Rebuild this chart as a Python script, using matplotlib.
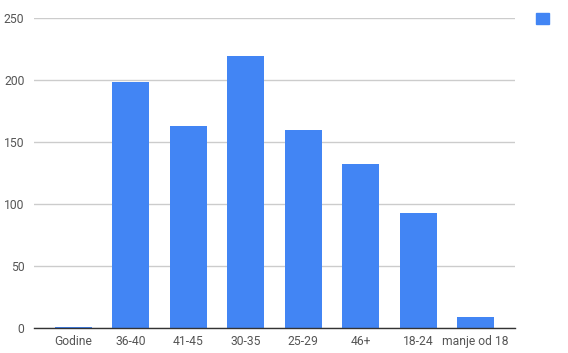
import numpy as np
import matplotlib.pyplot as plt
from matplotlib.patches import Patch

plt.rcParams['font.family'] = ['Roboto', 'DejaVu Sans']

categories = ["Godine", "36-40", "41-45", "30-35", "25-29", "46+", "18-24", "manje od 18"]
values = [1, 198, 163, 219, 160, 132, 93, 9]
yticks = [0, 50, 100, 150, 200, 250]

blue = "#4285F4"

fig = plt.figure(figsize=(5.68, 3.53), dpi=100)
ax = fig.add_axes([0.060, 0.0708, 0.847, 0.8782])

x = np.arange(len(categories))
ax.bar(x, values, width=0.645, color=blue, zorder=3)

ax.set_xlim(-0.684, 7.687)
ax.set_ylim(0, 250)
ax.set_yticks(yticks)
ax.set_xticks(x)
ax.set_xticklabels(categories)

ax.grid(axis="y", color="#cccccc", linewidth=1, zorder=0)
for s in ["top", "right", "left"]:
    ax.spines[s].set_visible(False)
ax.spines["bottom"].set_color("#333333")
ax.spines["bottom"].set_linewidth(1)
ax.spines["bottom"].set_zorder(4)
ax.tick_params(axis="both", length=0, labelsize=8.7, labelcolor="#555555")
ax.tick_params(axis="x", pad=5)
ax.tick_params(axis="y", pad=7)

fig.legend(handles=[Patch(color=blue)], labels=[""], loc="upper left",
           bbox_to_anchor=(0.932, 0.985), frameon=False,
           handlelength=0.9, handleheight=0.9, borderpad=0, handletextpad=0)

fig.savefig("out.png", dpi=100)
